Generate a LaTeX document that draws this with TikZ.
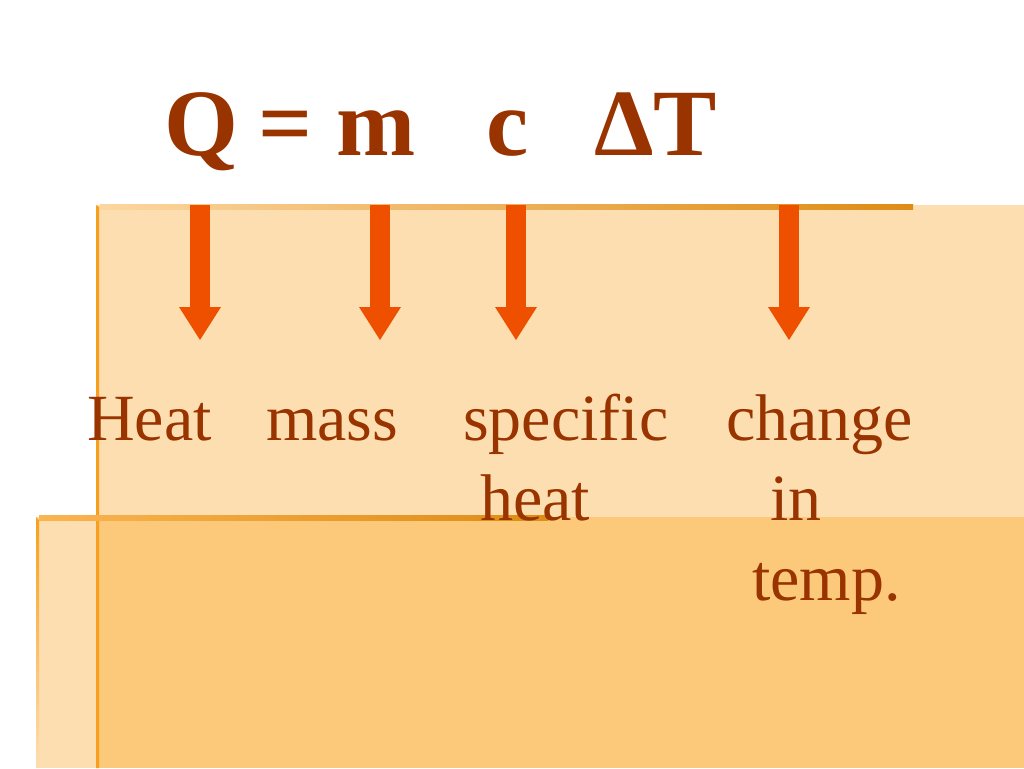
\documentclass[tikz,border=0pt]{standalone}
\usepackage{fontspec}
\setmainfont{Liberation Serif}
\usetikzlibrary{arrows.meta}
\definecolor{txt}{RGB}{153,51,0}
\definecolor{arr}{RGB}{238,80,0}
\definecolor{light}{RGB}{253,222,176}
\definecolor{dark}{RGB}{252,200,122}
\definecolor{edge}{RGB}{248,160,30}
\definecolor{lineL}{RGB}{252,214,160}
\definecolor{lineR}{RGB}{222,140,20}
\definecolor{lineL2}{RGB}{250,180,80}
\tikzset{
  eq/.style={anchor=base west, inner sep=0pt, text=txt, font=\fontsize{95}{110}\selectfont\bfseries},
  lbl/.style={anchor=base west, inner sep=0pt, text=txt, font=\fontsize{66}{78}\selectfont},
  blockarrow/.style={draw=arr, line width=20pt, -{Triangle[width=42pt,length=33pt,line width=0pt]}}
}
\begin{document}
\begin{tikzpicture}[x=1pt,y=-1pt]
\useasboundingbox (0,0) rectangle (1024,768);
\fill[white] (0,0) rectangle (1024,768);
% background panels
\fill[light] (96,205) rectangle (1024,768);
\fill[light] (36,517) rectangle (96,768);
\fill[dark] (96,517) rectangle (1024,768);
% edges
\fill[edge] (96,205) -- (99,207) -- (99,768) -- (96,768) -- cycle;
\shade[top color=edge, bottom color=light] (36,517) -- (39,520) -- (39,768) -- (36,768) -- cycle;
\shade[left color=lineL, right color=lineR] (100,204) rectangle (913,209);
\shade[left color=lineL2, right color=lineR] (39,515.5) rectangle (548,520.5);
% equation
\node[eq] (Q) at (164,155) {Q};
\node[eq] (eqs) at (258,155) {=};
\node[eq] (m) at (336,155) {m};
\node[eq] (c) at (486,155) {c};
\node[eq] (dT) at (594,155) {ΔT};
% arrows
\coordinate (a1s) at (200,205); \coordinate (a1e) at (200,340);
\coordinate (a2s) at (380,205); \coordinate (a2e) at (380,340);
\coordinate (a3s) at (516,205); \coordinate (a3e) at (516,340);
\coordinate (a4s) at (789,205); \coordinate (a4e) at (789,340);
\draw[blockarrow] (a1s) -- (a1e);
\draw[blockarrow] (a2s) -- (a2e);
\draw[blockarrow] (a3s) -- (a3e);
\draw[blockarrow] (a4s) -- (a4e);
% labels
\node[lbl] (heat) at (87,440) {Heat};
\node[lbl] (mass) at (266,440) {mass};
\node[lbl] (spec) at (463,440) {specific};
\node[lbl] (sheat) at (480,520) {heat};
\node[lbl] (change) at (726,440) {change};
\node[lbl] (in) at (770,520) {in};
\node[lbl] (temp) at (752,600) {temp.};
\end{tikzpicture}
\end{document}
